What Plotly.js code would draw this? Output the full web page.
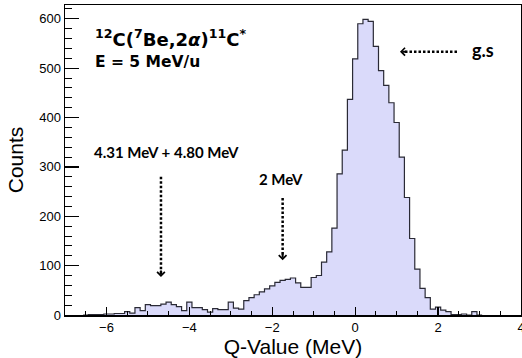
<!DOCTYPE html>
<html><head><meta charset="utf-8">
<script src="https://cdn.plot.ly/plotly-3.0.1.min.js"></script>
<style>html,body{margin:0;padding:0;background:#fff;} #chart{width:522px;height:358px;}</style>
</head><body><div id="chart"></div>
<script>
const binWidth = 0.125;
const qValues = [-6.5, -6.375, -6.25, -6.125, -6.0, -5.875, -5.75, -5.625, -5.5, -5.375, -5.25, -5.125,
  -5.0, -4.875, -4.75, -4.625, -4.5, -4.375, -4.25, -4.125, -4.0, -3.875, -3.75, -3.625,
  -3.5, -3.375, -3.25, -3.125, -3.0, -2.875, -2.75, -2.625, -2.5, -2.375, -2.25, -2.125,
  -2.0, -1.875, -1.75, -1.625, -1.5, -1.375, -1.25, -1.125, -1.0, -0.875, -0.75, -0.625,
  -0.5, -0.375, -0.25, -0.125, 0.0, 0.125, 0.25, 0.375, 0.5, 0.625, 0.75, 0.875,
  1.0, 1.125, 1.25, 1.375, 1.5, 1.625, 1.75, 1.875, 2.0, 2.125, 2.25, 2.375,
  2.5, 2.625, 2.75, 2.875, 3.0];
const counts = [0, 1, 1, 1, 2, 2, 3, 3, 7, 4, 15, 9,
  21, 19, 19, 22, 26, 21, 17, 9, 26, 15, 15, 11,
  6, 13, 11, 11, 26, 14, 12, 29, 35, 41, 47, 53,
  59, 66, 70, 72, 75, 65, 56, 56, 76, 80, 107, 128,
  176, 286, 334, 437, 519, 590, 599, 595, 544, 495, 465, 430,
  390, 320, 238, 155, 93, 54, 35, 12, 16, 10, 7, 1,
  1, 2, 0, 7, 0];

// step outline built from bin centres
const n = qValues.length;
const stepX = [qValues[0] - binWidth / 2];
const stepY = [0];
for (let i = 0; i < n; i++) { stepX.push(qValues[i] - binWidth / 2); stepY.push(counts[i]); }
stepX.push(qValues[n - 1] + binWidth / 2); stepY.push(counts[n - 1]);
stepX.push(qValues[n - 1] + binWidth / 2); stepY.push(0);

const trace = {
  type: 'scatter', mode: 'lines', x: stepX, y: stepY,
  line: {shape: 'hv', color: '#2a2a35', width: 1.2},
  fill: 'tozeroy', fillcolor: 'rgb(218,218,250)', hoverinfo: 'skip', showlegend: false
};

const axisFont = {family: 'Liberation Sans, Arial, sans-serif', size: 13, color: '#000'};
const titleFont = {family: 'Liberation Sans, Arial, sans-serif', size: 21, color: '#000'};
const labFont = {family: 'Lato, sans-serif', size: 15, color: '#000', weight: 700};
const dot = '2.5px,2px';

const layout = {
  width: 522, height: 358,
  margin: {l: 65, r: 1, t: 5, b: 43},
  paper_bgcolor: '#fff', plot_bgcolor: '#fff',
  showlegend: false,
  xaxis: {
    range: [-7, 4], tick0: 0, dtick: 2, ticks: 'inside', ticklen: 8, tickwidth: 1.2, tickcolor: '#000',
    minor: {dtick: 0.5, ticks: 'inside', ticklen: 4, tickwidth: 1, tickcolor: '#000', showgrid: false},
    showline: true, mirror: true, linecolor: '#000', linewidth: 1.5,
    showgrid: false, zeroline: false, tickfont: axisFont, ticklabeloverflow: 'allow',
    title: {text: 'Q-Value (MeV)', font: titleFont, standoff: 0}
  },
  yaxis: {
    range: [0, 628], tick0: 0, dtick: 100, ticks: 'inside', ticklen: 14, tickwidth: 1.2, tickcolor: '#000',
    minor: {dtick: 20, ticks: 'inside', ticklen: 7, tickwidth: 1, tickcolor: '#000', showgrid: false},
    showline: true, mirror: true, linecolor: '#000', linewidth: 1.5,
    showgrid: false, zeroline: false, tickfont: axisFont,
    title: {text: 'Counts', font: titleFont, standoff: 10}
  },
  shapes: [
    {type: 'line', xref: 'x', yref: 'y', x0: -4.685, x1: -4.685, y0: 280, y1: 84, line: {color: '#000', width: 2.5, dash: dot}},
    {type: 'line', xref: 'x', yref: 'y', x0: -1.75, x1: -1.75, y0: 237, y1: 119, line: {color: '#000', width: 2.5, dash: dot}},
    {type: 'line', xref: 'x', yref: 'y', x0: 2.456, x1: 1.17, y0: 533.5, y1: 533.5, line: {color: '#000', width: 2.5, dash: dot}}
  ],
  annotations: [
    {xref: 'x', yref: 'y', x: -6.33, y: 561, xanchor: 'left', yanchor: 'middle', showarrow: false,
     text: '<sup>12</sup>C(<sup>7</sup>Be,2<i>α</i>)<sup>11</sup>C<sup>*</sup>',
     font: {family: 'DejaVu Sans, sans-serif', size: 18, color: '#000', weight: 700}},
    {xref: 'x', yref: 'y', x: -6.33, y: 512, xanchor: 'left', yanchor: 'middle', showarrow: false,
     text: 'E = 5 MeV/u', font: {family: 'DejaVu Sans, sans-serif', size: 15.5, color: '#000', weight: 700}},
    {xref: 'x', yref: 'y', x: -6.34, y: 330, xanchor: 'left', yanchor: 'middle', showarrow: false,
     text: '4.31 MeV + 4.80 MeV', font: labFont},
    {xref: 'x', yref: 'y', x: -1.80, y: 275, xanchor: 'center', yanchor: 'middle', showarrow: false,
     text: '2 MeV', font: labFont},
    {xref: 'x', yref: 'y', x: 3.08, y: 537, xanchor: 'center', yanchor: 'middle', showarrow: false,
     text: 'g.s', font: {family: 'Lato, sans-serif', size: 18, color: '#000', weight: 700}},
    {xref: 'x', yref: 'y', x: -4.685, y: 77, ax: 0, ay: -8, text: '', showarrow: true,
     arrowhead: 4, arrowsize: 0.75, arrowwidth: 2, arrowcolor: '#000'},
    {xref: 'x', yref: 'y', x: -1.75, y: 111, ax: 0, ay: -8, text: '', showarrow: true,
     arrowhead: 4, arrowsize: 0.75, arrowwidth: 2, arrowcolor: '#000'},
    {xref: 'x', yref: 'y', x: 1.08, y: 533.5, ax: 8, ay: 0, text: '', showarrow: true,
     arrowhead: 4, arrowsize: 0.75, arrowwidth: 2, arrowcolor: '#000'}
  ]
};

Plotly.newPlot('chart', [trace], layout, {staticPlot: true, displayModeBar: false});
</script>
</body></html>
